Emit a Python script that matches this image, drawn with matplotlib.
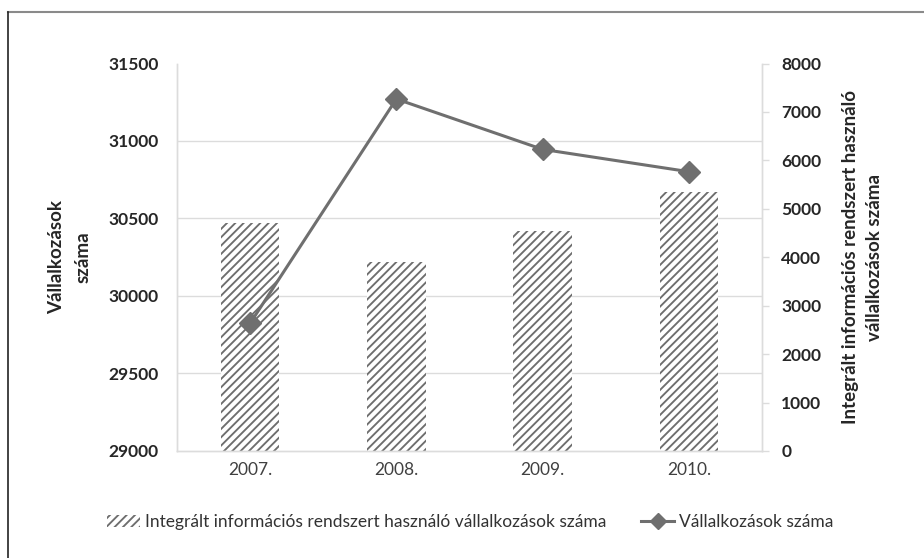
import matplotlib
matplotlib.use("Agg")
import matplotlib.pyplot as plt
from matplotlib.lines import Line2D
from matplotlib.patches import Patch
from matplotlib.ticker import MultipleLocator
import numpy as np

# yearly figures
years = ["2007.", "2008.", "2009.", "2010."]
firms_total = [29824, 31271, 30946, 30802]          # Vállalkozások száma (left axis)
firms_integrated = [4700, 3895, 4542, 5341]          # integrált rendszert használók (right axis)

left_ticks = [29000, 29500, 30000, 30500, 31000, 31500]
right_ticks = [0, 1000, 2000, 3000, 4000, 5000, 6000, 7000, 8000]

plt.rcParams["font.family"] = ["Lato", "DejaVu Sans"]
plt.rcParams["hatch.linewidth"] = 1.35

GRID = "#dcdcdc"
DARK = "#6f6f6f"
HATCH = "#6e6e6e"
TXT = "#262626"

fig = plt.figure(figsize=(9.24, 5.58), dpi=100)
ax2 = fig.add_axes([0.1916, 0.1918, 0.633, 0.6944])   # bars, right scale
ax = ax2.twinx()                                       # line, left scale
ax.yaxis.tick_left()
ax.yaxis.set_label_position("left")
ax2.yaxis.tick_right()
ax2.yaxis.set_label_position("right")
ax.patch.set_visible(False)

x = np.arange(len(years))

# hatched bars
ax2.bar(x, firms_integrated, width=0.4, facecolor="white", edgecolor=HATCH,
        hatch="////", linewidth=0, zorder=2)
ax2.set_ylim(0, 8000)
ax2.set_yticks(right_ticks)
ax2.yaxis.set_minor_locator(MultipleLocator(1600))
ax2.grid(axis="y", which="minor", color=GRID, lw=1, zorder=0)
ax2.set_axisbelow(True)
ax2.tick_params(axis="y", which="major", direction="out", length=5, width=1,
                color=GRID, pad=9, labelsize=12.5, labelcolor=TXT)
ax2.tick_params(axis="y", which="minor", length=0)
for t in ax2.get_yticklabels():
    t.set_fontweight("bold")
ax2.set_xlim(-0.5, len(years) - 0.5)
ax2.set_xticks(x)
ax2.set_xticklabels(years)
ax2.tick_params(axis="x", length=0, pad=8, labelsize=12.5, labelcolor="#404040")

# line with diamonds
ax.plot(x, firms_total, color=DARK, lw=2.2, marker="D", markersize=11,
        markerfacecolor=DARK, markeredgecolor=DARK, zorder=3)
ax.set_ylim(29000, 31500)
ax.set_yticks(left_ticks)
ax.tick_params(axis="y", length=0, pad=13, labelsize=12.5, labelcolor=TXT)
for t in ax.get_yticklabels():
    t.set_fontweight("bold")

for a in (ax, ax2):
    a.spines["top"].set_visible(False)
    for s in ("left", "right", "bottom"):
        a.spines[s].set_color(GRID)
        a.spines[s].set_linewidth(1)

ax.set_ylabel("Vállalkozások\nszáma", fontsize=13.5, fontweight="bold",
              color=TXT, labelpad=12, linespacing=1.7)
ax2.set_ylabel("Integrált információs rendszert használó\nvállalkozások száma",
               fontsize=13.5, fontweight="bold", color=TXT, labelpad=15,
               rotation=90, linespacing=1.45)

# legend below the plot
handles = [
    Patch(facecolor="white", edgecolor=HATCH, hatch="////", linewidth=0),
    Line2D([0], [0], color=DARK, lw=2.2, marker="D", markersize=8,
           markerfacecolor=DARK, markeredgecolor=DARK),
]
labels = ["Integrált információs rendszert használó vállalkozások száma",
          "Vállalkozások száma"]
fig.legend(handles, labels, loc="center", bbox_to_anchor=(0.509, 0.064),
           ncol=2, frameon=False, fontsize=12.5, handlelength=1.9,
           handletextpad=0.3, columnspacing=2.0, labelcolor="#333333")

# outer frame edges
fig.add_artist(Line2D([8 / 924, 1], [1 - 12 / 558, 1 - 12 / 558],
                      transform=fig.transFigure, color="#8a8a8a", lw=1.5))
fig.add_artist(Line2D([8 / 924, 8 / 924], [0, 1 - 12 / 558],
                      transform=fig.transFigure, color="#222222", lw=1.2))

fig.savefig("out.png", dpi=100, facecolor="white")
